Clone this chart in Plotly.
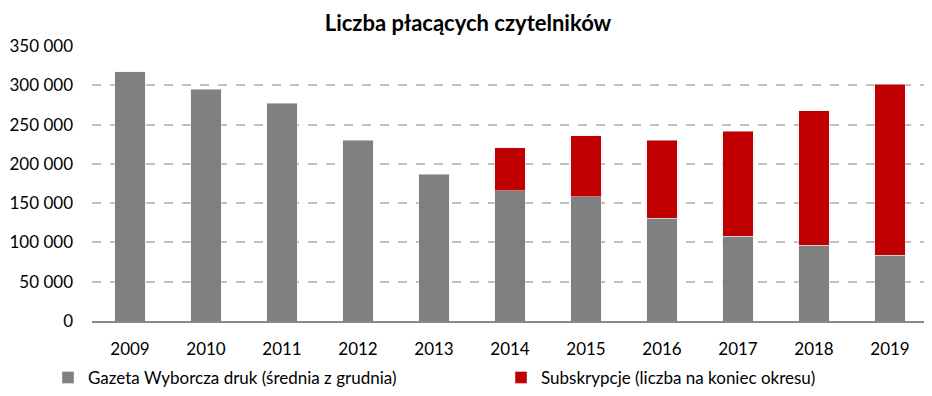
import plotly.graph_objects as go

years = ["2009", "2010", "2011", "2012", "2013", "2014", "2015", "2016", "2017", "2018", "2019"]
print_avg = [317000, 295000, 277000, 230000, 187000, 165500, 158000, 131000, 108000, 96500, 84000]
subscriptions = [None, None, None, None, None, 54700, 77500, 99300, 133200, 171000, 217600]

name_print = "Gazeta Wyborcza druk (średnia z grudnia)"
name_sub = "Subskrypcje (liczba na koniec okresu)"
title_text = "Liczba płacących czytelników"
y_ticks = [0, 50000, 100000, 150000, 200000, 250000, 300000, 350000]

FONT = "Lato, Carlito, Calibri, sans-serif"

fig = go.Figure()
fig.add_trace(go.Bar(x=years, y=print_avg, name=name_print, marker_color="#808080", legend="legend"))
fig.add_trace(go.Bar(x=years, y=subscriptions, name=name_sub, marker_color="#c00000", legend="legend2"))

leg_common = dict(orientation="h", yref="container", y=0.066, yanchor="middle",
                  xref="container", xanchor="left", bgcolor="rgba(0,0,0,0)",
                  font=dict(family=FONT, size=17, color="#000000"), itemwidth=30)

fig.update_layout(
    barmode="stack",
    bargap=0.6,
    width=932, height=396,
    paper_bgcolor="white", plot_bgcolor="white",
    separators=", ",
    margin=dict(l=84, r=12, t=38, b=83, autoexpand=False),
    font=dict(family=FONT, size=17, color="#000000"),
    title=dict(text="<b>" + title_text + "</b>", x=460 / 932, xref="container", xanchor="center",
               y=1 - 15 / 396, yref="container", yanchor="middle",
               font=dict(family=FONT, size=22, color="#000000")),
    legend=dict(x=40 / 932, **leg_common),
    legend2=dict(x=493 / 932, **leg_common),
    showlegend=True,
)
fig.update_yaxes(range=[0, 350000], tickvals=y_ticks, tickformat=",d",
                 showgrid=True, gridcolor="#c0c0c0", griddash="dash", gridwidth=1.5,
                 zeroline=False, showline=False, ticks="", ticklabelstandoff=18,
                 automargin=False,
                 tickfont=dict(family=FONT, size=17, color="#000000"))
fig.update_xaxes(showline=True, linecolor="#898989", linewidth=2, ticks="",
                 ticklabelstandoff=12, automargin=False,
                 tickfont=dict(family=FONT, size=17, color="#000000"))

fig.write_html("out.html")
